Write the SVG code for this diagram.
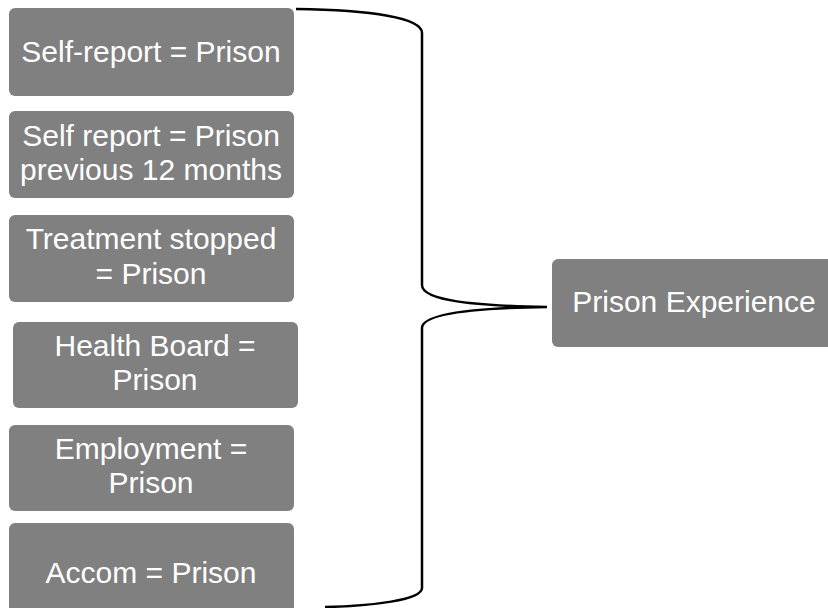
<svg xmlns="http://www.w3.org/2000/svg" width="828" height="608" viewBox="0 0 828 608">
  <style>
    .box { fill: #808080; }
    .lbl { fill: #ffffff; font-family: "Liberation Sans", Arial, sans-serif; font-size: 30px; text-anchor: middle; }
    .brace { fill: none; stroke: #000000; stroke-width: 2.5; }
  </style>
  <rect width="828" height="608" fill="#ffffff"/>

  <g id="connectors">
    <path class="brace" d="M296,9 C372,10 422,18 422,33 L422,285 C422,301 478,306 547,307 C478,308 422,313 422,328 L422,588 C422,600 372,606 325,607"/>
  </g>

  <g id="node-self-report">
    <rect class="box" x="9" y="8" width="285" height="88" rx="6"/>
    <text class="lbl" x="151" y="62">Self-report = Prison</text>
  </g>

  <g id="node-self-report-12m">
    <rect class="box" x="9" y="111" width="285" height="87" rx="6"/>
    <text class="lbl" x="151" y="146">Self report = Prison</text>
    <text class="lbl" x="151" y="180">previous 12 months</text>
  </g>

  <g id="node-treatment-stopped">
    <rect class="box" x="9" y="215" width="285" height="87" rx="6"/>
    <text class="lbl" x="151" y="249">Treatment stopped</text>
    <text class="lbl" x="151" y="284">= Prison</text>
  </g>

  <g id="node-health-board">
    <rect class="box" x="13" y="322" width="285" height="86" rx="6"/>
    <text class="lbl" x="155" y="356">Health Board =</text>
    <text class="lbl" x="155" y="390">Prison</text>
  </g>

  <g id="node-employment">
    <rect class="box" x="9" y="425" width="285" height="86" rx="6"/>
    <text class="lbl" x="151" y="459">Employment =</text>
    <text class="lbl" x="151" y="493">Prison</text>
  </g>

  <g id="node-accom">
    <rect class="box" x="9" y="523" width="285" height="110" rx="6"/>
    <text class="lbl" x="151" y="583">Accom = Prison</text>
  </g>

  <g id="node-prison-experience">
    <rect class="box" x="552" y="259" width="285" height="88" rx="6"/>
    <text class="lbl" x="694" y="312">Prison Experience</text>
  </g>
</svg>
